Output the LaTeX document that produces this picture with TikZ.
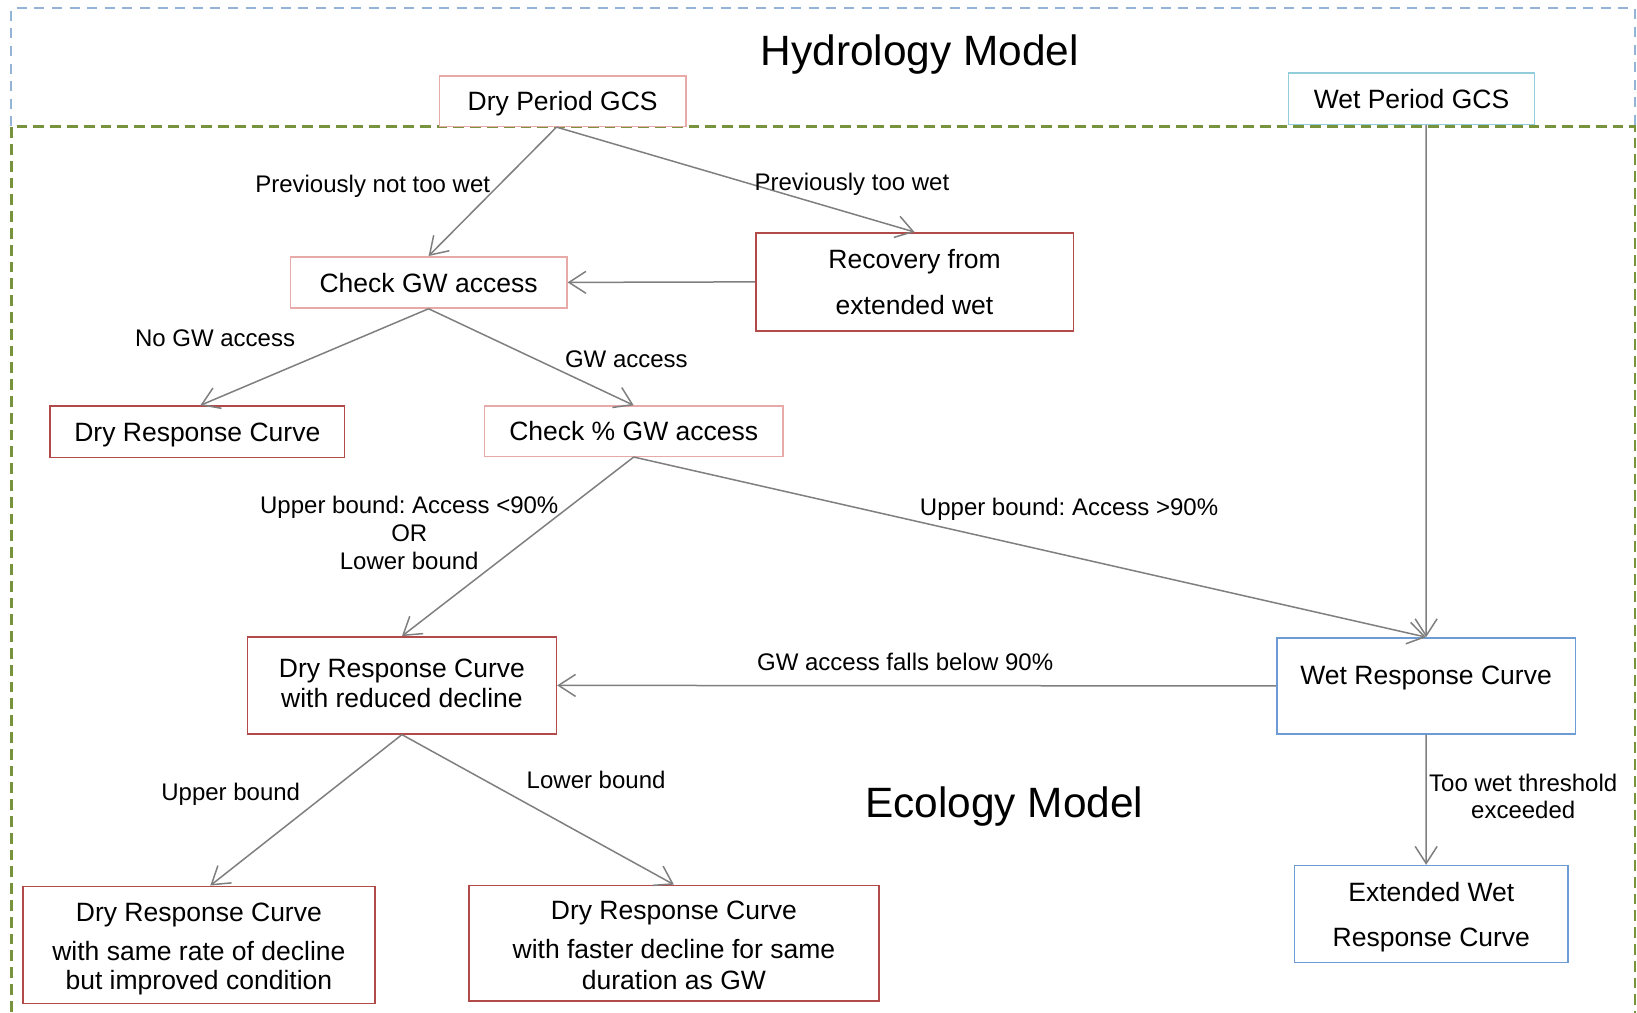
\documentclass[tikz,border=0pt]{standalone}
\usepackage{fontspec}
\setmainfont{Liberation Sans}
\usetikzlibrary{arrows.meta}
\definecolor{hydroblue}{HTML}{95B3D7}
\definecolor{ecogreen}{HTML}{77933C}
\definecolor{lightred}{HTML}{E8A9A9}
\definecolor{darkred}{HTML}{B24A4A}
\definecolor{aqua}{HTML}{92CDDC}
\definecolor{midblue}{HTML}{6C9BD6}
\definecolor{edgegray}{HTML}{7F7F7F}
\frenchspacing
\begin{document}
\begin{tikzpicture}[x=0.522pt,y=-0.522pt,
  box/.style={draw, line width=0.75pt, fill=white, inner sep=0pt, align=center,
    font=\fontsize{13.25}{15}\selectfont},
  oneline/.style={text height=9.6pt, text depth=0pt},
  softred/.style={box, draw=lightred},
  hardred/.style={box, draw=darkred},
  wetaqua/.style={box, draw=aqua},
  wetblue/.style={box, draw=midblue},
  flow/.style={draw=edgegray, line width=0.75pt, -{Straight Barb[length=8.5pt,width=11pt,line width=0.75pt]}},
  lbl/.style={font=\fontsize{12}{13.8}\selectfont, inner sep=0pt, align=center},
  heading/.style={font=\fontsize{21.2}{24}\selectfont, inner sep=0pt}]
\useasboundingbox (0,0) rectangle (1568,970);

% model frames
\draw[hydroblue, line width=1pt, dash pattern=on 5pt off 3.8pt] (11,121) -- (11,8) -- (1566,8) -- (1566,121);
\draw[ecogreen, line width=1.4pt, dash pattern=on 5.4pt off 3pt] (11,985) -- (11,121) -- (1566,121) -- (1566,985);

\node[heading, anchor=base] (hydro) at (881,62.5) {Hydrology Model};
\node[heading, anchor=base] (eco) at (962,783.5) {Ecology Model};

% boxes
\node[softred, oneline, minimum width=123.2pt, minimum height=25.1pt] (dryp) at (539,97) {Dry Period GCS};
\node[wetaqua, oneline, minimum width=123.2pt, minimum height=25.6pt] (wetp) at (1352,94.5) {Wet Period GCS};
\node[softred, oneline, minimum width=138.3pt, minimum height=25.6pt] (chk) at (410.5,270.5) {Check GW access};
\node[hardred, minimum width=158.7pt, minimum height=49.1pt, font=\fontsize{13.25}{23}\selectfont] (rec) at (876,270) {Recovery from\\extended wet};
\node[hardred, oneline, minimum width=147.2pt, minimum height=25.6pt] (dryrc) at (189,413.5) {Dry Response Curve};
\node[softred, oneline, minimum width=149.3pt, minimum height=25.1pt] (chkp) at (607,413) {Check \% GW access};
\node[hardred, minimum width=154.5pt, minimum height=48.5pt, text depth=2.1pt] (red) at (385,656.5) {Dry Response Curve\\with reduced decline};
\node[wetblue, minimum width=149.3pt, minimum height=48pt, text height=9.5pt, text depth=11.4pt] (wetrc) at (1366,657) {Wet Response Curve};
\node[wetblue, minimum width=136.8pt, minimum height=48.5pt, text depth=-1.4pt, font=\fontsize{13.25}{22.4}\selectfont] (ext) at (1371,875.5) {Extended Wet\\Response Curve};
\node[hardred, minimum width=175.9pt, minimum height=58.5pt, text height=44.9pt, text depth=0pt, font=\fontsize{13.25}{14.6}\selectfont] (same) at (190.5,905) {Dry Response Curve\\[5pt]with same rate of decline\\but improved condition};
\node[hardred, minimum width=205.1pt, minimum height=57.9pt, text height=46.5pt, text depth=0pt, font=\fontsize{13.25}{15.7}\selectfont] (fast) at (645.5,903.5) {Dry Response Curve\\[3.6pt]with faster decline for same\\duration as GW};

% connectors
\draw[flow] ([xshift=-3.1pt]dryp.south) -- (chk.north);
\draw[flow] ([xshift=-3.1pt]dryp.south) -- (rec.north);
\draw[flow] (rec.west) -- (chk.east);
\draw[flow] (chk.south) -- ([xshift=1.5pt]dryrc.north);
\draw[flow] (chk.south) -- (chkp.north);
\draw[flow] (chkp.south) -- (red.north);
\draw[flow] (chkp.south) -- (wetrc.north);
\draw[flow] ([xshift=7.3pt]wetp.south) -- (wetrc.north);
\draw[flow] (wetrc.west) -- (red.east);
\draw[flow] (red.south) -- ([xshift=5.7pt]same.north);
\draw[flow] (red.south) -- (fast.north);
\draw[flow] (wetrc.south) -- ([xshift=-2.6pt]ext.north);

% connector labels
\node[lbl, anchor=base] (l1) at (357,184) {Previously not too wet};
\node[lbl, anchor=base] (l2) at (816,182) {Previously too wet};
\node[lbl, anchor=base] (l3) at (206,332) {No GW access};
\node[lbl, anchor=base] (l4) at (600,352) {GW access};
\node[lbl] (l5) at (392,510.5) {Upper bound: Access <90\%\\OR\\Lower bound};
\node[lbl, anchor=base] (l6) at (1024,494) {Upper bound: Access >90\%};
\node[lbl, anchor=base] (l7) at (867,642) {GW access falls below 90\%};
\node[lbl, anchor=base] (l8) at (221,767) {Upper bound};
\node[lbl, anchor=base] (l9) at (571,755) {Lower bound};
\node[lbl] (l10) at (1459,763) {Too wet threshold\\exceeded};
\end{tikzpicture}
\end{document}
